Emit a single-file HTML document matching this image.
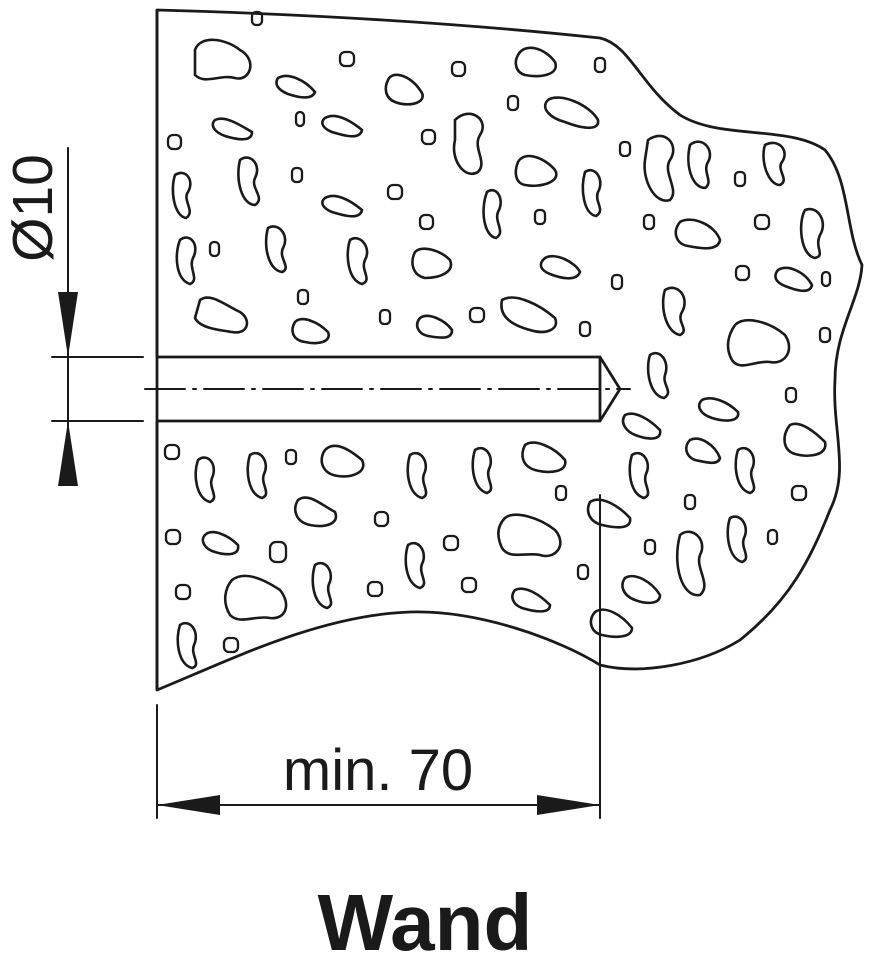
<!DOCTYPE html>
<html><head><meta charset="utf-8"><style>body{margin:0;background:#fff}svg{display:block}</style></head>
<body>
<svg width="882" height="955" viewBox="0 0 882 955" xmlns="http://www.w3.org/2000/svg">
<g fill="none" stroke="#1a1a1a" stroke-width="2.8" stroke-linejoin="round">
<path d="M157,10 C300,14 450,22 600,38 C630,45 640,85 680,115 C720,140 790,125 825,150 C850,180 845,230 862,265 C860,300 835,330 835,380 C832,430 850,470 830,510 C810,560 790,600 740,640 C700,665 640,675 600,665 C560,640 480,610 410,612 C320,615 230,660 157,690 Z"/>
</g>
<path d="M150,357 L600,357 L620,389 L600,421 L150,421 Z" fill="#fff" stroke="none"/>
<g fill="none" stroke="#1a1a1a" stroke-width="2.8">
<path d="M157,357 L600,357 L620,389 L600,421 L157,421"/>
<line x1="600" y1="357" x2="600" y2="421"/>
<line x1="157" y1="10" x2="157" y2="690"/>
</g>
<g fill="none" stroke="#1a1a1a" stroke-width="2" stroke-linecap="round">
<line x1="145" y1="389" x2="630" y2="389" stroke-dasharray="40,8,3,8"/>
<line x1="52" y1="357" x2="143" y2="357"/>
<line x1="52" y1="421" x2="143" y2="421"/>
<line x1="68" y1="148" x2="68" y2="485"/>
<line x1="157" y1="705" x2="157" y2="818"/>
<line x1="600" y1="495" x2="600" y2="818"/>
<line x1="157" y1="805" x2="600" y2="805"/>
</g>
<g fill="#1a1a1a">
<path d="M68,357 L58,292 L78,292 Z"/>
<path d="M68,421 L58,486 L78,486 Z"/>
<path d="M157,805 L220,795 L220,815 Z"/>
<path d="M600,805 L537,795 L537,815 Z"/>
</g>
<g fill="none" stroke="#1a1a1a" stroke-width="2.6">
<path d="M195,50 C200,35 225,38 240,50 C258,60 250,82 235,78 C220,74 205,85 195,75 Z"/>
<path d="M388,80 C392,70 410,75 420,90 C430,102 410,108 395,102 C385,98 384,88 388,80 Z"/>
<path d="M518,55 C525,42 545,48 555,62 C560,75 540,78 525,75 C515,72 514,62 518,55 Z"/>
<path d="M548,100 C560,92 590,105 598,120 C600,132 580,128 565,122 C550,118 540,108 548,100 Z"/>
<path d="M455,120 C470,105 490,120 480,135 C472,148 488,162 478,172 C465,180 450,160 455,140 Z"/>
<path d="M648,140 C665,128 680,145 670,160 C662,172 680,190 670,200 C655,205 642,180 645,160 Z"/>
<path d="M690,145 C702,135 715,150 708,162 C702,172 714,182 705,188 C692,188 685,165 690,145 Z"/>
<path d="M765,145 C778,138 790,150 782,162 C776,170 790,180 780,185 C768,185 760,160 765,145 Z"/>
<path d="M518,162 C525,150 545,158 555,170 C562,182 540,188 525,185 C515,183 514,172 518,162 Z"/>
<path d="M240,160 C250,152 262,165 255,178 C250,188 266,198 255,205 C242,205 235,180 240,160 Z"/>
<path d="M175,175 C185,168 195,180 188,192 C182,200 196,212 186,218 C174,216 170,190 175,175 Z"/>
<path d="M487,192 C497,185 505,200 498,212 C494,222 506,232 496,238 C484,236 480,210 487,192 Z"/>
<path d="M585,172 C595,165 605,180 598,192 C594,202 606,210 596,216 C584,214 580,190 585,172 Z"/>
<path d="M680,222 C692,215 715,225 720,240 C718,252 698,248 688,246 C676,244 672,232 680,222 Z"/>
<path d="M805,210 C818,205 828,222 820,235 C814,248 826,255 815,258 C800,255 798,222 805,210 Z"/>
<path d="M268,228 C278,222 290,235 283,248 C278,258 292,268 282,272 C268,270 263,245 268,228 Z"/>
<path d="M180,240 C190,232 200,245 193,258 C188,268 200,280 190,284 C176,280 174,255 180,240 Z"/>
<path d="M350,240 C360,233 372,248 365,260 C360,270 373,280 362,284 C348,280 345,255 350,240 Z"/>
<path d="M415,252 C422,245 440,250 450,260 C455,272 440,278 425,278 C412,275 410,262 415,252 Z"/>
<path d="M545,258 C555,252 575,262 580,272 C576,282 560,278 550,274 C540,270 538,264 545,258 Z"/>
<path d="M665,290 C678,282 690,298 682,312 C676,322 690,330 680,335 C665,332 660,305 665,290 Z"/>
<path d="M735,325 C745,315 770,322 785,335 C795,350 785,365 770,362 C755,360 740,372 732,360 C725,348 728,335 735,325 Z"/>
<path d="M200,300 C210,292 225,305 240,312 C252,320 248,335 232,332 C218,330 200,328 195,318 Z"/>
<path d="M502,300 C515,292 540,305 555,318 C560,330 545,335 530,330 C515,326 498,318 502,300 Z"/>
<path d="M295,322 C302,315 318,322 328,332 C332,342 318,345 305,342 C292,340 290,330 295,322 Z"/>
<path d="M420,318 C428,312 445,320 452,330 C452,340 440,338 428,336 C418,334 414,325 420,318 Z"/>
<path d="M650,355 C660,348 670,362 665,375 C662,385 674,392 664,398 C650,396 645,370 650,355 Z"/>
<path d="M625,415 C635,410 650,420 660,430 C662,440 650,440 638,436 C625,432 620,422 625,415 Z"/>
<path d="M702,400 C712,395 728,402 738,412 C740,422 725,422 712,418 C700,414 696,406 702,400 Z"/>
<path d="M790,425 C800,420 815,432 825,442 C828,455 810,458 795,454 C782,450 782,435 790,425 Z"/>
<path d="M325,450 C335,440 350,450 362,460 C368,472 352,478 338,476 C322,474 318,460 325,450 Z"/>
<path d="M525,445 C535,438 555,448 565,460 C568,472 550,474 535,470 C522,466 520,455 525,445 Z"/>
<path d="M198,460 C208,452 218,465 212,478 C208,488 220,498 210,502 C196,498 193,475 198,460 Z"/>
<path d="M250,455 C260,448 270,462 264,474 C260,484 272,494 262,498 C248,494 245,470 250,455 Z"/>
<path d="M410,455 C420,448 430,462 424,474 C420,484 432,494 422,498 C408,494 405,470 410,455 Z"/>
<path d="M475,450 C485,443 495,457 489,469 C485,479 497,489 487,493 C473,489 470,465 475,450 Z"/>
<path d="M632,455 C642,448 652,462 646,474 C642,484 654,494 644,498 C630,494 627,470 632,455 Z"/>
<path d="M738,450 C748,443 758,457 752,469 C748,479 760,489 750,493 C736,489 733,465 738,450 Z"/>
<path d="M690,440 C700,435 715,445 720,458 C718,466 705,462 695,460 C685,456 684,446 690,440 Z"/>
<path d="M298,500 C308,492 322,505 335,512 C340,524 325,528 310,525 C296,522 292,510 298,500 Z"/>
<path d="M505,518 C515,510 540,518 555,530 C568,545 555,560 540,555 C525,552 510,560 502,548 C496,535 498,525 505,518 Z"/>
<path d="M590,502 C600,495 618,505 630,518 C632,530 615,528 602,525 C590,522 585,512 590,502 Z"/>
<path d="M680,535 C692,525 708,540 700,555 C695,568 712,585 700,595 C682,598 672,565 680,535 Z"/>
<path d="M730,518 C740,512 750,526 744,538 C740,548 752,558 742,562 C728,558 725,532 730,518 Z"/>
<path d="M205,535 C212,528 228,535 238,545 C240,555 228,556 215,552 C204,549 200,540 205,535 Z"/>
<path d="M408,545 C418,538 428,552 422,564 C418,574 430,584 420,588 C406,584 403,560 408,545 Z"/>
<path d="M315,565 C325,558 335,572 329,584 C325,594 337,604 327,608 C313,604 310,580 315,565 Z"/>
<path d="M232,580 C245,570 265,580 280,590 C292,605 285,620 270,618 C255,615 240,625 230,615 C222,602 225,588 232,580 Z"/>
<path d="M625,578 C635,572 652,582 660,595 C660,605 645,604 635,600 C622,595 620,585 625,578 Z"/>
<path d="M595,612 C605,605 622,615 632,628 C632,638 615,638 602,635 C590,632 588,620 595,612 Z"/>
<path d="M515,590 C525,585 540,595 550,605 C550,614 535,612 522,608 C512,604 510,596 515,590 Z"/>
<path d="M180,625 C190,618 200,632 194,645 C190,655 202,665 192,668 C178,664 175,640 180,625 Z"/>
<path d="M278,78 C288,72 305,80 315,92 C312,100 300,98 288,94 C278,90 274,84 278,78 Z"/>
<path d="M215,120 C225,115 240,125 252,132 C252,142 238,140 225,136 C214,132 210,125 215,120 Z"/>
<path d="M325,118 C335,112 350,120 362,130 C360,140 345,136 332,132 C322,128 320,122 325,118 Z"/>
<path d="M325,198 C335,192 350,200 362,210 C360,220 345,216 332,212 C322,208 320,202 325,198 Z"/>
<path d="M778,270 C788,264 805,272 812,285 C810,295 795,290 785,286 C775,282 773,276 778,270 Z"/>
</g>
<g fill="none" stroke="#1a1a1a" stroke-width="2.3">
<rect x="252" y="12" width="10" height="13" rx="4"/>
<rect x="340" y="52" width="14" height="14" rx="5"/>
<rect x="452" y="62" width="13" height="14" rx="5"/>
<rect x="595" y="58" width="10" height="14" rx="4"/>
<rect x="296" y="112" width="8" height="14" rx="4"/>
<rect x="508" y="96" width="10" height="14" rx="4"/>
<rect x="422" y="130" width="13" height="14" rx="5"/>
<rect x="168" y="135" width="13" height="14" rx="5"/>
<rect x="620" y="142" width="10" height="14" rx="4"/>
<rect x="292" y="168" width="10" height="14" rx="4"/>
<rect x="388" y="185" width="14" height="14" rx="5"/>
<rect x="735" y="172" width="10" height="14" rx="4"/>
<rect x="535" y="210" width="10" height="14" rx="4"/>
<rect x="420" y="215" width="13" height="14" rx="5"/>
<rect x="644" y="215" width="10" height="14" rx="4"/>
<rect x="755" y="215" width="14" height="14" rx="5"/>
<rect x="210" y="242" width="9" height="14" rx="4"/>
<rect x="736" y="266" width="13" height="14" rx="5"/>
<rect x="612" y="275" width="10" height="14" rx="4"/>
<rect x="822" y="272" width="8" height="14" rx="4"/>
<rect x="298" y="290" width="10" height="14" rx="4"/>
<rect x="470" y="308" width="14" height="14" rx="5"/>
<rect x="380" y="310" width="10" height="14" rx="4"/>
<rect x="580" y="322" width="10" height="14" rx="4"/>
<rect x="820" y="328" width="10" height="14" rx="4"/>
<rect x="786" y="388" width="10" height="14" rx="4"/>
<rect x="165" y="445" width="14" height="14" rx="5"/>
<rect x="286" y="450" width="10" height="14" rx="4"/>
<rect x="556" y="486" width="10" height="14" rx="4"/>
<rect x="685" y="495" width="10" height="14" rx="4"/>
<rect x="792" y="486" width="14" height="14" rx="5"/>
<rect x="375" y="512" width="13" height="14" rx="5"/>
<rect x="166" y="530" width="14" height="14" rx="5"/>
<rect x="270" y="542" width="16" height="20" rx="6"/>
<rect x="444" y="536" width="14" height="14" rx="5"/>
<rect x="645" y="540" width="10" height="14" rx="4"/>
<rect x="768" y="530" width="9" height="14" rx="4"/>
<rect x="578" y="565" width="10" height="14" rx="4"/>
<rect x="462" y="578" width="14" height="14" rx="5"/>
<rect x="368" y="582" width="14" height="14" rx="5"/>
<rect x="176" y="585" width="14" height="14" rx="5"/>
<rect x="224" y="638" width="14" height="14" rx="5"/>
</g>
<text x="52" y="208" transform="rotate(-90 52 208)" text-anchor="middle" font-family="Liberation Sans, sans-serif" font-size="57" fill="#1a1a1a">Ø10</text>
<text x="378" y="790" text-anchor="middle" font-family="Liberation Sans, sans-serif" font-size="58" fill="#1a1a1a">min. 70</text>
<text x="425" y="950" text-anchor="middle" font-family="Liberation Sans, sans-serif" font-size="80" font-weight="bold" fill="#1a1a1a">Wand</text>
</svg>
</body></html>
